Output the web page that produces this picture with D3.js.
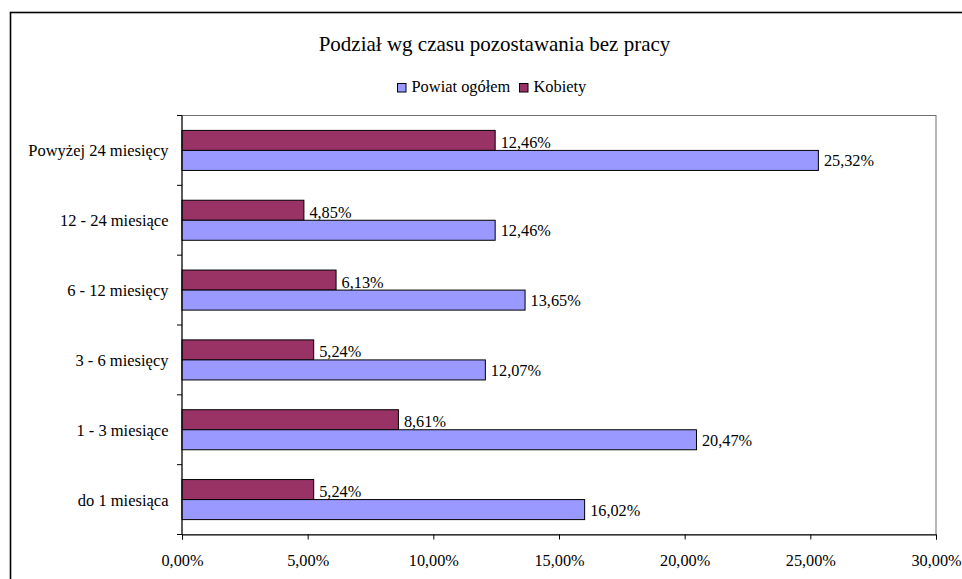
<!DOCTYPE html>
<html>
<head>
<meta charset="utf-8">
<script src="https://cdn.jsdelivr.net/npm/d3@7"></script>
<style>
  body { margin: 0; background: #fff; }
  svg text { font-family: "Liberation Serif", serif; fill: #000; }
</style>
</head>
<body>
<div id="chart"></div>
<script>
// Dane wykresu
const categories = ['Powyżej 24 miesięcy', '12 - 24 miesiące', '6 - 12 miesięcy', '3 - 6 miesięcy', '1 - 3 miesiące', 'do 1 miesiąca'];
const seriesNames = ['Kobiety', 'Powiat ogółem'];
const kobiety = [12.46, 4.85, 6.13, 5.24, 8.61, 5.24];
const powiat = [25.32, 12.46, 13.65, 12.07, 20.47, 16.02];
const xTicks = [0, 5, 10, 15, 20, 25, 30];
const colors = { 'Kobiety': '#993366', 'Powiat ogółem': '#9999FF' };

const width = 962, height = 579;
const margin = { left: 182, right: 26, top: 115.5, bottom: 44.5 };

const svg = d3.select('#chart').append('svg')
    .attr('width', width)
    .attr('height', height);

// ramka wykresu
svg.append('rect')
    .attr('x', 10.5).attr('y', 12.5)
    .attr('width', 968).attr('height', 600)
    .attr('fill', '#fff').attr('stroke', '#000').attr('stroke-width', 1.6);

const x = d3.scaleLinear().domain([0, 30]).range([margin.left, width - margin.right]);
const y = d3.scaleBand().domain(categories).range([margin.top, height - margin.bottom]).padding(0);
const ySub = d3.scaleBand().domain(seriesNames).range([0, y.bandwidth()]).paddingInner(0).paddingOuter(0.744);

const fmt = v => d3.format('.2f')(v).replace('.', ',') + '%';

// obszar kreślenia
svg.append('rect')
    .attr('x', x(0)).attr('y', margin.top)
    .attr('width', x(30) - x(0)).attr('height', y.range()[1] - margin.top)
    .attr('fill', 'none').attr('stroke', '#6e6e6e').attr('stroke-width', 1);

// tytuł
svg.append('text')
    .attr('x', 494.5).attr('y', 51)
    .attr('text-anchor', 'middle')
    .style('font-size', '21px')
    .text('Podział wg czasu pozostawania bez pracy');

// legenda
const legendItems = [
    { name: 'Powiat ogółem', x: 397 },
    { name: 'Kobiety', x: 519 }
];
const legend = svg.append('g');
legendItems.forEach(d => {
    legend.append('rect')
        .attr('x', d.x + 0.5).attr('y', 83.5)
        .attr('width', 8.5).attr('height', 8.5)
        .attr('fill', colors[d.name]).attr('stroke', '#000').attr('stroke-width', 1);
    legend.append('text')
        .attr('x', d.x + 14.5).attr('y', 92)
        .style('font-size', '16.4px')
        .text(d.name);
});

// słupki
const rows = categories.map((c, i) => ({ cat: c, 'Kobiety': kobiety[i], 'Powiat ogółem': powiat[i] }));
const groups = svg.selectAll('g.cat')
    .data(rows)
    .enter()
    .append('g')
    .attr('class', 'cat')
    .attr('transform', d => `translate(0,${y(d.cat)})`);

groups.selectAll('rect')
    .data(d => seriesNames.map(s => ({ s, v: d[s] })))
    .enter()
    .append('rect')
    .attr('x', x(0))
    .attr('y', d => ySub(d.s))
    .attr('width', d => x(d.v) - x(0))
    .attr('height', ySub.bandwidth())
    .attr('fill', d => colors[d.s])
    .attr('stroke', '#000')
    .attr('stroke-width', 1);

groups.selectAll('text.val')
    .data(d => seriesNames.map(s => ({ s, v: d[s] })))
    .enter()
    .append('text')
    .attr('class', 'val')
    .attr('x', d => x(d.v) + 5.5)
    .attr('y', d => ySub(d.s) + ySub.bandwidth() / 2 + (d.s === 'Kobiety' ? 7.5 : 6))
    .style('font-size', '16.3px')
    .text(d => fmt(d.v));

// oś X
const xAxis = svg.append('g')
    .attr('transform', `translate(0,${y.range()[1]})`)
    .call(d3.axisBottom(x).tickValues(xTicks).tickSize(5).tickPadding(15).tickFormat(v => fmt(v)));
xAxis.select('.domain').attr('stroke', '#000');
xAxis.selectAll('line').attr('stroke', '#000');
xAxis.selectAll('text').style('font-size', '16.3px').attr('font-family', null);

// oś Y
const yTickPos = d3.range(categories.length + 1).map(i => margin.top + i * y.step());
const yAxisG = svg.append('g');
yAxisG.append('line')
    .attr('x1', x(0)).attr('x2', x(0))
    .attr('y1', margin.top).attr('y2', y.range()[1])
    .attr('stroke', '#000');
yAxisG.selectAll('line.tick')
    .data(yTickPos)
    .enter()
    .append('line')
    .attr('class', 'tick')
    .attr('x1', x(0) - 5).attr('x2', x(0))
    .attr('y1', d => d).attr('y2', d => d)
    .attr('stroke', '#000');
yAxisG.selectAll('text')
    .data(categories)
    .enter()
    .append('text')
    .attr('x', 168.5)
    .attr('y', d => y(d) + y.bandwidth() / 2 + 6)
    .attr('text-anchor', 'end')
    .style('font-size', '16.5px')
    .text(d => d);
</script>
</body>
</html>
